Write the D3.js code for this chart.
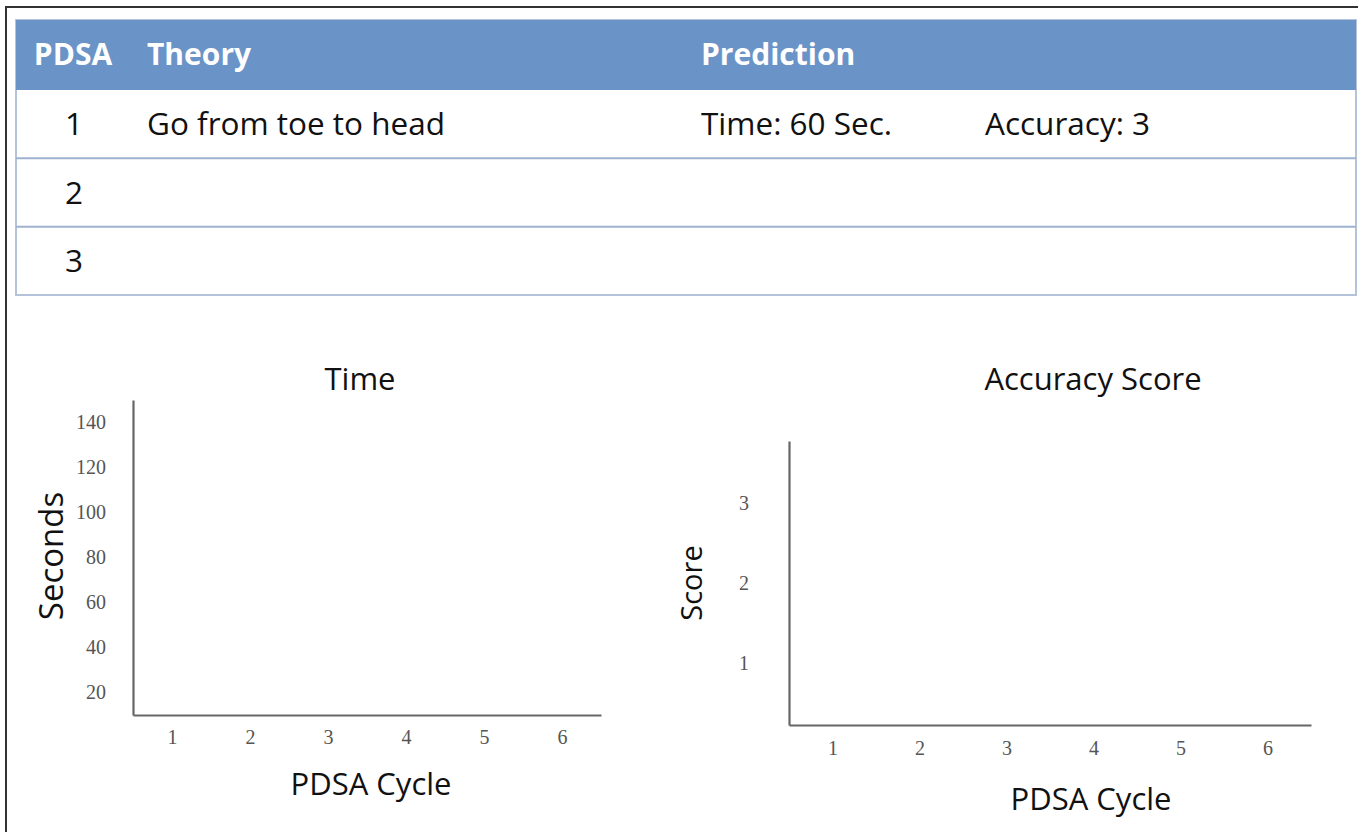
<!DOCTYPE html>
<html>
<head>
<meta charset="utf-8">
<script src="https://cdn.jsdelivr.net/npm/d3@7"></script>
<style>
  body { margin: 0; background: #fff; }
  svg { display: block; }
</style>
</head>
<body>
<svg id="chart" width="1358" height="832"></svg>
<script>
// table data
var headers = ["PDSA", "Theory", "Prediction"];
var cycles = [1, 2, 3];
var theories = ["Go from toe to head", "", ""];
var predTime = ["Time: 60 Sec.", "", ""];
var predAccuracy = ["Accuracy: 3", "", ""];

// chart data (charts are blank templates)
var pdsaTicks = [1, 2, 3, 4, 5, 6];
var timeTicks = [20, 40, 60, 80, 100, 120, 140];
var scoreTicks = [1, 2, 3];
var timeValues = [];
var scoreValues = [];

var sans = "'Open Sans', 'Noto Sans', sans-serif",
    serif = "'Liberation Serif', 'DejaVu Serif', serif";

var svg = d3.select("#chart");

// outer frame (runs off the right and bottom of the picture)
svg.append("rect")
    .attr("x", 6).attr("y", 7)
    .attr("width", 1400).attr("height", 900)
    .attr("fill", "#fff")
    .attr("stroke", "#333")
    .attr("stroke-width", 2);

// ---------- table ----------
var tableLeft = 16, tableRight = 1356, headTop = 20, headBottom = 90, tableBottom = 295;

var rowScale = d3.scaleBand()
    .domain(cycles)
    .range([headBottom, tableBottom]);

var table = svg.append("g").attr("class", "table");

table.append("rect")
    .attr("x", tableLeft).attr("y", headTop)
    .attr("width", tableRight - tableLeft).attr("height", tableBottom - headTop)
    .attr("fill", "#fff")
    .attr("stroke", "#b4c3da")
    .attr("stroke-width", 2);

table.append("rect")
    .attr("x", tableLeft).attr("y", headTop)
    .attr("width", tableRight - tableLeft).attr("height", headBottom - headTop)
    .attr("fill", "#6a93c7");

var headX = [73, 147, 701];
table.selectAll(".head")
    .data(headers)
    .enter()
    .append("text")
    .attr("class", "head")
    .attr("x", function(d, i){ return headX[i]; })
    .attr("y", 65)
    .attr("text-anchor", function(d, i){ return i == 0 ? "middle" : "start"; })
    .attr("font-family", sans)
    .attr("font-weight", 700)
    .attr("font-size", "30px")
    .attr("fill", "#fff")
    .text(function(d){ return d; });

table.selectAll(".rowline")
    .data(cycles.slice(1))
    .enter()
    .append("line")
    .attr("class", "rowline")
    .attr("x1", tableLeft).attr("x2", tableRight)
    .attr("y1", function(d){ return rowScale(d); })
    .attr("y2", function(d){ return rowScale(d); })
    .attr("stroke", "#9fb2cf")
    .attr("stroke-width", 2);

var rows = table.selectAll(".row")
    .data(cycles)
    .enter()
    .append("g")
    .attr("class", "row")
    .attr("transform", function(d){ return "translate(0," + (rowScale(d) + rowScale.bandwidth()/2 + 11) + ")"; });

rows.append("text")
    .attr("x", 74)
    .attr("text-anchor", "middle")
    .text(function(d){ return d; });

rows.append("text")
    .attr("x", 147)
    .text(function(d, i){ return theories[i]; });

rows.append("text")
    .attr("x", 701)
    .text(function(d, i){ return predTime[i]; });

rows.append("text")
    .attr("x", 985)
    .text(function(d, i){ return predAccuracy[i]; });

rows.selectAll("text")
    .attr("font-family", sans)
    .attr("font-size", "31.5px")
    .attr("fill", "#111");

// ---------- charts ----------
function drawChart(opt){
  var g = svg.append("g");

  var x = d3.scaleLinear()
      .domain([0.5, 6.5])
      .range([opt.left, opt.right]);

  var y = d3.scaleLinear()
      .domain(opt.yDomain)
      .range([opt.bottom, opt.top]);

  var xAxis = d3.axisBottom(x)
      .tickValues(pdsaTicks)
      .tickFormat(d3.format("d"))
      .tickSizeInner(0)
      .tickSizeOuter(0)
      .tickPadding(opt.xPad);

  var yAxis = d3.axisLeft(y)
      .tickValues(opt.yTicks)
      .tickFormat(d3.format("d"))
      .tickSizeInner(0)
      .tickSizeOuter(0)
      .tickPadding(opt.yPad);

  g.append("g")
      .attr("transform", "translate(0," + opt.bottom + ")")
      .call(xAxis);

  g.append("g")
      .attr("transform", "translate(" + opt.left + ",0)")
      .call(yAxis);

  g.selectAll(".domain")
      .attr("stroke", "#666")
      .attr("stroke-width", 2.2);

  g.selectAll(".tick text")
      .attr("font-family", serif)
      .attr("font-size", "20px")
      .attr("fill", "#555");

  // series (empty in the template)
  g.selectAll(".pt")
      .data(opt.values)
      .enter()
      .append("circle")
      .attr("class", "pt")
      .attr("cx", function(d, i){ return x(pdsaTicks[i]); })
      .attr("cy", function(d){ return y(d); })
      .attr("r", 5);

  g.append("text")
      .attr("x", opt.titleX)
      .attr("y", 390)
      .attr("text-anchor", "middle")
      .attr("font-family", sans)
      .attr("font-size", "31px")
      .attr("fill", "#111")
      .text(opt.title);

  g.append("text")
      .attr("x", opt.xLabelX)
      .attr("y", opt.xLabelY)
      .attr("text-anchor", "middle")
      .attr("font-family", sans)
      .attr("font-size", "31px")
      .attr("fill", "#111")
      .text("PDSA Cycle");

  g.append("text")
      .attr("transform", "translate(" + opt.yLabelX + "," + opt.yLabelY + ") rotate(-90)")
      .attr("text-anchor", "middle")
      .attr("font-family", sans)
      .attr("font-size", opt.yLabelSize)
      .attr("fill", "#111")
      .text(opt.yLabel);
}

drawChart({
  left: 133, right: 601, top: 400, bottom: 715,
  yDomain: [10, 150], yTicks: timeTicks, values: timeValues,
  xPad: 15, yPad: 27,
  title: "Time", titleX: 360,
  xLabelX: 371, xLabelY: 795,
  yLabel: "Seconds", yLabelX: 63, yLabelY: 556, yLabelSize: "33px"
});

drawChart({
  left: 789, right: 1311, top: 441, bottom: 725,
  yDomain: [0.22, 3.78], yTicks: scoreTicks, values: scoreValues,
  xPad: 16, yPad: 40,
  title: "Accuracy Score", titleX: 1093,
  xLabelX: 1091, xLabelY: 810,
  yLabel: "Score", yLabelX: 702, yLabelY: 583, yLabelSize: "29px"
});
</script>
</body>
</html>
